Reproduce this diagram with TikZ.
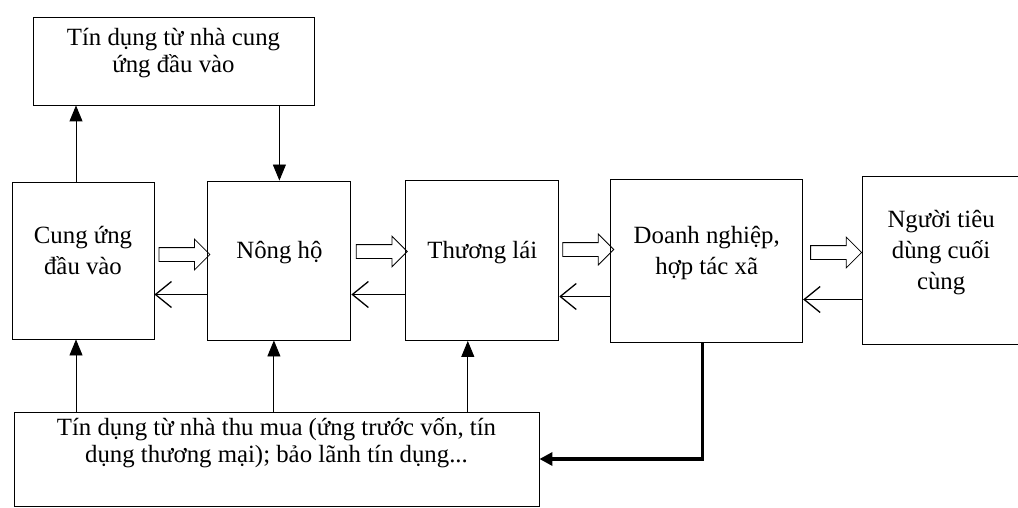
\documentclass[tikz,border=0pt]{standalone}
\usepackage{fontspec}
\setmainfont{Liberation Serif}
\usetikzlibrary{arrows.meta,positioning,shapes.arrows,calc}
\tikzset{
  box/.style={rectangle, draw=black, line width=0.9pt, align=center, inner sep=0pt, text depth=21pt, font=\fontsize{24.8}{31}\selectfont},
  creditbox/.style={box, font=\fontsize{24.8}{26.5}\selectfont},
  arrow/.style={-{Triangle[length=16pt,width=13pt]}, line width=0.9pt},
  backarrow/.style={-{Straight Barb[length=16pt,width=26pt,line width=1.3pt]}, line width=1.3pt},
  thickarrow/.style={-{Triangle[length=13pt,width=13pt]}, line width=3.5pt},
  flowarrow/.style={single arrow, draw=black, line width=0.8pt, minimum height=51pt, minimum width=30pt, single arrow head extend=8.5pt, inner sep=6.5pt}
}
\begin{document}
\begin{tikzpicture}[x=1pt,y=-1pt]
\useasboundingbox (0,0) rectangle (1018,508);
% chain of actors
\node[box, minimum width=142pt, minimum height=157pt] (supplier) at (83,260.5) {Cung ứng\\đầu vào};
\node[box, minimum width=143pt, minimum height=159pt, right=53pt of supplier] (farmer) {Nông hộ};
\node[box, minimum width=153pt, minimum height=160pt, right=54pt of farmer] (trader) {Thương lái};
\node[box, minimum width=192pt, minimum height=163pt, right=51pt of trader] (firm) {Doanh nghiệp,\\hợp tác xã};
\node[box, minimum width=157pt, minimum height=168pt, right=59pt of firm] (consumer) {Người tiêu\\dùng cuối\\cùng};
% credit sources
\node[creditbox, minimum width=281pt, minimum height=88pt] (suppliercredit) at (173.5,61) {Tín dụng từ nhà cung\\ứng đầu vào};
\node[creditbox, minimum width=525pt, minimum height=94pt, text depth=38pt] (buyercredit) at (276.5,459) {Tín dụng từ nhà thu mua (ứng trước vốn, tín\\dụng thương mại); bảo lãnh tín dụng...};
% goods flow
\node[flowarrow] (f1) at ($(supplier.east)!0.5!(farmer.west)+(0,-6)$) {};
\node[flowarrow] (f2) at ($(farmer.east)!0.5!(trader.west)+(0,-9)$) {};
\node[flowarrow] (f3) at ($(trader.east)!0.5!(firm.west)+(0,-11)$) {};
\node[flowarrow] (f4) at ($(firm.east)!0.5!(consumer.west)+(0,-8)$) {};
% money flow back
\draw[backarrow] ([yshift=-34pt]farmer.west) -- ([yshift=-34pt]farmer.west -| supplier.east);
\draw[backarrow] ([yshift=-34pt]trader.west) -- ([yshift=-34pt]trader.west -| farmer.east);
\draw[backarrow] ([yshift=-36pt]firm.west) -- ([yshift=-36pt]firm.west -| trader.east);
\draw[backarrow] ([yshift=-39pt]consumer.west) -- ([yshift=-39pt]consumer.west -| firm.east);
% credit links
\draw[arrow] ([xshift=-7pt]supplier.north) -- ([xshift=-7pt]supplier.north |- suppliercredit.south);
\draw[arrow] (suppliercredit.south -| farmer.north) -- (farmer.north);
\draw[arrow] ([xshift=-7pt]buyercredit.north -| supplier.south) -- ([xshift=-7pt]supplier.south);
\draw[arrow] ([xshift=-5.5pt]buyercredit.north -| farmer.south) -- ([xshift=-5.5pt]farmer.south);
\draw[arrow] ([xshift=-14.5pt]buyercredit.north -| trader.south) -- ([xshift=-14.5pt]trader.south);
\draw[thickarrow] ([xshift=-4pt]firm.south) |- (buyercredit.east);
\end{tikzpicture}
\end{document}
